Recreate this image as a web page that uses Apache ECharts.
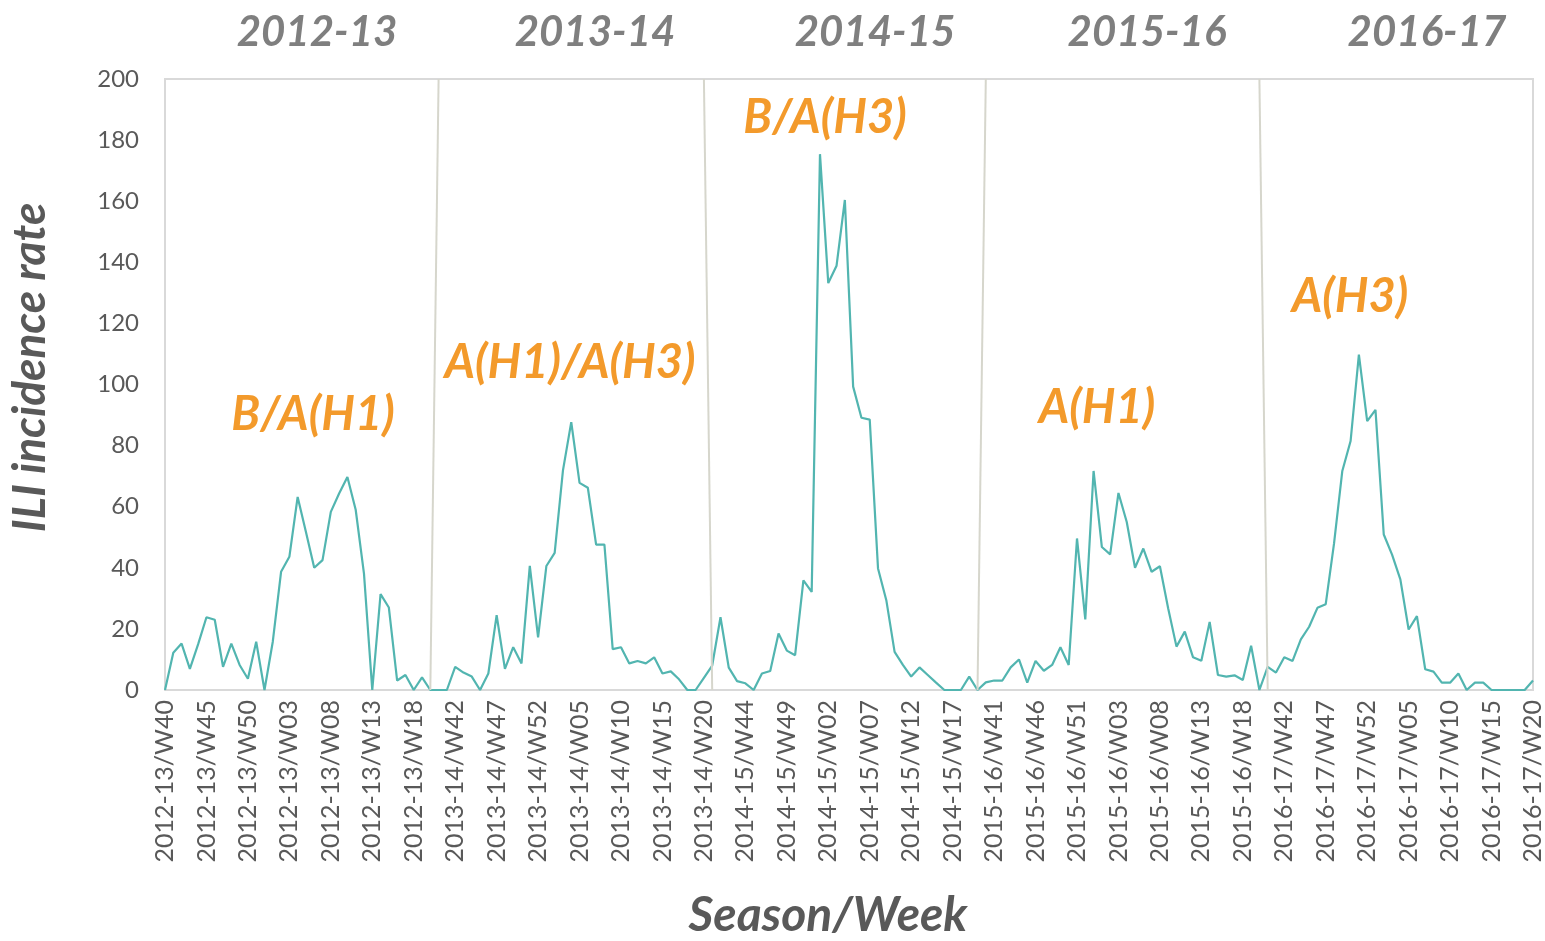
<!DOCTYPE html>
<html>
<head>
<meta charset="utf-8">
<script src="https://cdn.jsdelivr.net/npm/echarts@6/dist/echarts.min.js"></script>
<style>
html,body{margin:0;padding:0;background:#fff;}
#chart{width:1545px;height:941px;}
</style>
</head>
<body>
<div id="chart"></div>
<script>
// Seasons and weeks
const seasons = ['2012-13', '2013-14', '2014-15', '2015-16', '2016-17'];
const weeksStd = ['W40','W41','W42','W43','W44','W45','W46','W47','W48','W49','W50','W51','W52',
  'W01','W02','W03','W04','W05','W06','W07','W08','W09','W10','W11','W12','W13','W14','W15','W16','W17','W18','W19','W20'];
const weeks53 = ['W40','W41','W42','W43','W44','W45','W46','W47','W48','W49','W50','W51','W52','W53',
  'W01','W02','W03','W04','W05','W06','W07','W08','W09','W10','W11','W12','W13','W14','W15','W16','W17','W18','W19','W20'];
const seasonWeeks = [weeksStd, weeksStd, weeksStd, weeks53, weeksStd];

// ILI incidence rate per season
const ili2012 = [0,12.2,15.2,6.9,15.0,23.8,23.0,7.6,15.2,8.2,3.7,15.8,0,15.8,38.7,43.6,63.2,51.7,40.0,42.5,58.3,64.3,69.7,59.0,38.1,0,31.4,27.0,3.1,4.9,0,4.1,0];
const ili2013 = [0,0,7.6,5.7,4.4,0,5.4,24.5,6.9,14.0,8.7,40.6,17.2,40.6,44.9,71.9,87.7,67.8,66.2,47.6,47.6,13.4,14.0,8.7,9.5,8.7,10.7,5.4,6.1,3.5,0,0,4.0];
const ili2014 = [8.0,23.8,7.3,2.9,2.2,0,5.4,6.2,18.5,12.9,11.4,35.9,32.1,175.4,133.2,138.9,160.4,99.3,89.1,88.5,39.8,29.4,12.5,8.2,4.4,7.4,4.9,2.4,0,0,0,4.4,0];
const ili2015 = [2.5,3.1,3.1,7.4,10.0,2.4,9.5,6.3,8.2,14.0,8.2,49.6,23.1,71.7,46.8,44.4,64.5,55.0,40.0,46.3,38.7,40.5,26.7,14.2,19.1,10.7,9.6,22.3,4.9,4.4,4.8,3.3,14.5,0];
const ili2016 = [7.6,5.7,10.7,9.5,16.6,20.7,26.9,28.1,47.9,71.7,81.5,109.8,88.0,91.7,50.9,44.3,36.2,19.8,24.2,6.8,6.0,2.4,2.4,5.4,0,2.4,2.4,0,0,0,0,0,3.1];
const seasonValues = [ili2012, ili2013, ili2014, ili2015, ili2016];

// Dominant virus annotation per season
const virusLabels = ['B/A(H1)', 'A(H1)/A(H3)', 'B/A(H3)', 'A(H1)', 'A(H3)'];

// Y ticks
const yMin = 0, yMax = 200, yStep = 20;

// Season separator segments: [category at bottom, category at top]
const sepPairs = [
  ['2012-13/W20', '2013-14/W40'],
  ['2014-15/W40', '2013-14/W20'],
  ['2014-15/W20', '2015-16/W40'],
  ['2016-17/W40', '2015-16/W20']
];

// Build categories and values
const categories = [];
const values = [];
seasons.forEach((s, k) => {
  seasonWeeks[k].forEach((w, j) => {
    categories.push(s + '/' + w);
    values.push(seasonValues[k][j]);
  });
});

const FONT = 'Lato, "Open Sans", sans-serif';
const chart = echarts.init(document.getElementById('chart'));

const seasonTitlePos = [317, 595, 875, 1147, 1427];
const virusPos = [[313, 415], [570, 363], [825, 118], [1097, 408], [1350, 297]];

const graphics = [];
seasons.forEach((s, k) => {
  graphics.push({
    type: 'text', x: seasonTitlePos[k], y: 32,
    style: { text: s, fill: '#7F7F7F', font: 'italic bold 42px ' + FONT, textAlign: 'center', textVerticalAlign: 'middle' }
  });
  graphics.push({
    type: 'text', x: virusPos[k][0], y: virusPos[k][1],
    style: { text: virusLabels[k], fill: '#F39A2B', font: 'italic bold 47px ' + FONT, textAlign: 'center', textVerticalAlign: 'middle' }
  });
});

chart.setOption({
  animation: false,
  backgroundColor: '#ffffff',
  grid: {
    left: 165, right: 12, top: 79, bottom: 251,
    outerBoundsMode: 'none',
    containLabel: false,
    show: true, borderColor: '#D9D9D9', borderWidth: 2, backgroundColor: 'transparent'
  },
  xAxis: {
    type: 'category',
    data: categories,
    boundaryGap: false,
    name: 'Season/Week',
    nameLocation: 'middle',
    nameGap: 202,
    nameTextStyle: { fontFamily: FONT, fontSize: 48, fontWeight: 'bold', fontStyle: 'italic', color: '#595959', padding: [0, 42, 0, 0] },
    axisLine: { show: true, lineStyle: { color: '#D9D9D9', width: 2 } },
    axisTick: { show: false },
    axisLabel: { interval: 4, rotate: 90, fontFamily: FONT, fontSize: 25, color: '#595959', margin: 10 },
    splitLine: { show: false }
  },
  yAxis: {
    type: 'value',
    min: yMin, max: yMax, interval: yStep,
    name: 'ILI incidence rate',
    nameLocation: 'middle',
    nameGap: 112,
    nameTextStyle: { fontFamily: FONT, fontSize: 46, fontWeight: 'bold', fontStyle: 'italic', color: '#595959', padding: [0, 0, 0, 34] },
    axisLine: { show: false },
    axisTick: { show: false },
    axisLabel: { fontFamily: FONT, fontSize: 24, color: '#595959', margin: 26 },
    splitLine: { show: false }
  },
  series: [{
    type: 'line',
    data: values,
    symbol: 'none',
    lineStyle: { color: '#52B5B0', width: 2.2 },
    itemStyle: { color: '#52B5B0' },
    markLine: {
      silent: true,
      symbol: 'none',
      label: { show: false },
      lineStyle: { color: '#D6D6CC', width: 2, type: 'solid' },
      data: sepPairs.map(p => [{ coord: [p[0], yMin] }, { coord: [p[1], yMax] }])
    }
  }],
  graphic: graphics
});
</script>
</body>
</html>
